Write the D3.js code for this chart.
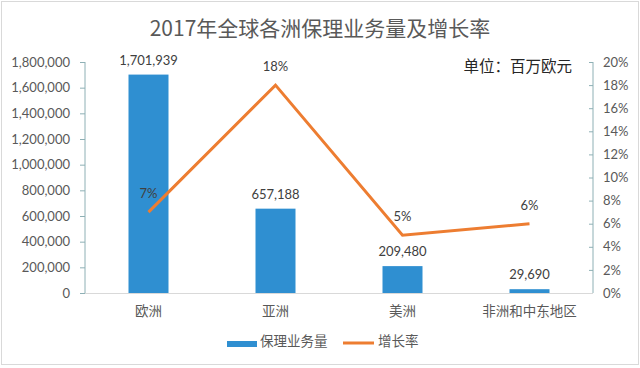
<!DOCTYPE html>
<html><head><meta charset="utf-8">
<script src="https://cdn.jsdelivr.net/npm/d3@7"></script>
<style>
html,body{margin:0;padding:0;background:#fff;}
svg{display:block;}
</style>
</head><body>
<svg id="c" width="640" height="368"></svg>
<script>
const categories = ["欧洲", "亚洲", "美洲", "非洲和中东地区"];
const volume = [1701939, 657188, 209480, 29690];
const growth = [0.07, 0.18, 0.05, 0.06];
const leftTicks = [0, 200000, 400000, 600000, 800000, 1000000, 1200000, 1400000, 1600000, 1800000];
const rightTicks = [0, 0.02, 0.04, 0.06, 0.08, 0.10, 0.12, 0.14, 0.16, 0.18, 0.20];
const title = "2017年全球各洲保理业务量及增长率";
const unitText = "单位：百万欧元";
const legendLabels = ["保理业务量", "增长率"];

const FONT = "Lato, 'Noto Sans CJK SC', sans-serif";
const CJK = "'Noto Sans CJK SC', sans-serif";
const blue = "#2f8fd1", orange = "#ed7d31";
const svg = d3.select("#c");
const L = 85, R = 593, T = 62, B = 293;

svg.append("rect").attr("x", 1.5).attr("y", 1.5).attr("width", 637).attr("height", 363)
  .attr("fill", "#fff").attr("stroke", "#d9d9d9");

const x = d3.scaleBand().domain(categories).range([L, R]);
const yL = d3.scaleLinear().domain([0, 1800000]).range([B, T]);
const yR = d3.scaleLinear().domain([0, 0.2]).range([B, T]);

// title
svg.append("text").attr("x", 320).attr("y", 36).attr("text-anchor", "middle")
  .attr("font-family", CJK).attr("font-size", 21).attr("fill", "#595959").text(title);
svg.append("text").attr("x", 572).attr("y", 72).attr("text-anchor", "end")
  .attr("font-family", CJK).attr("font-size", 15.5).attr("font-weight", 400).attr("fill", "#262626").text(unitText);

// left axis
const gl = svg.append("g").attr("transform", `translate(${L},0)`)
  .call(d3.axisLeft(yL).tickValues(leftTicks).tickFormat(d3.format(",")).tickSize(5).tickPadding(10));
gl.select(".domain").attr("stroke", "#8eb0b5").attr("d", `M0,${T}V${B}`);
gl.selectAll(".tick line").attr("stroke", "#8eb0b5");
gl.selectAll(".tick text").attr("font-family", FONT).attr("font-size", 13).attr("fill", "#595959");

// right axis
const gr = svg.append("g").attr("transform", `translate(${R},0)`)
  .call(d3.axisRight(yR).tickValues(rightTicks).tickFormat(d3.format(".0%")).tickSize(0).tickPadding(10));
gr.select(".domain").attr("stroke", "#8eb0b5").attr("d", `M0,${T}V${B}`);
gr.selectAll(".tick").append("line").attr("x1", -4).attr("x2", 0).attr("stroke", "#8eb0b5");
gr.selectAll(".tick text").attr("font-family", FONT).attr("font-size", 13).attr("fill", "#595959");

// bottom axis
const gb = svg.append("g").attr("transform", `translate(0,${B})`)
  .call(d3.axisBottom(x).tickSize(0).tickPadding(13));
gb.select(".domain").attr("stroke", "#d9d9d9").attr("d", `M${L},0.5H${R}`);
gb.selectAll(".tick text").attr("font-family", CJK).attr("font-size", 13.5).attr("fill", "#595959");

// bars
const bw = 40;
svg.append("g").selectAll("rect").data(volume).join("rect")
  .attr("x", (d, i) => x(categories[i]) + x.bandwidth() / 2 - bw / 2)
  .attr("y", d => yL(d)).attr("width", bw).attr("height", d => B - yL(d))
  .attr("fill", blue);
svg.append("g").selectAll("text").data(volume).join("text")
  .attr("x", (d, i) => x(categories[i]) + x.bandwidth() / 2)
  .attr("y", d => yL(d) - 10).attr("text-anchor", "middle")
  .attr("font-family", FONT).attr("font-size", 13).attr("fill", "#404040")
  .text(d => d3.format(",")(d));

// line
const line = d3.line().x((d, i) => x(categories[i]) + x.bandwidth() / 2).y(d => yR(d));
svg.append("path").datum(growth).attr("d", line).attr("fill", "none")
  .attr("stroke", orange).attr("stroke-width", 3).attr("stroke-linejoin", "miter");
svg.append("g").selectAll("text").data(growth).join("text")
  .attr("x", (d, i) => x(categories[i]) + x.bandwidth() / 2)
  .attr("y", d => yR(d) - 14).attr("text-anchor", "middle")
  .attr("font-family", FONT).attr("font-size", 13).attr("fill", "#404040")
  .text(d => d3.format(".0%")(d));

// legend
const lg = svg.append("g");
lg.append("rect").attr("x", 227).attr("y", 341).attr("width", 30).attr("height", 6).attr("fill", blue);
lg.append("text").attr("x", 260).attr("y", 346).attr("font-family", CJK).attr("font-size", 13.5)
  .attr("fill", "#595959").text(legendLabels[0]);
lg.append("line").attr("x1", 343).attr("x2", 374).attr("y1", 343).attr("y2", 343)
  .attr("stroke", orange).attr("stroke-width", 3);
lg.append("text").attr("x", 378).attr("y", 346).attr("font-family", CJK).attr("font-size", 13.5)
  .attr("fill", "#595959").text(legendLabels[1]);
</script>
</body></html>
